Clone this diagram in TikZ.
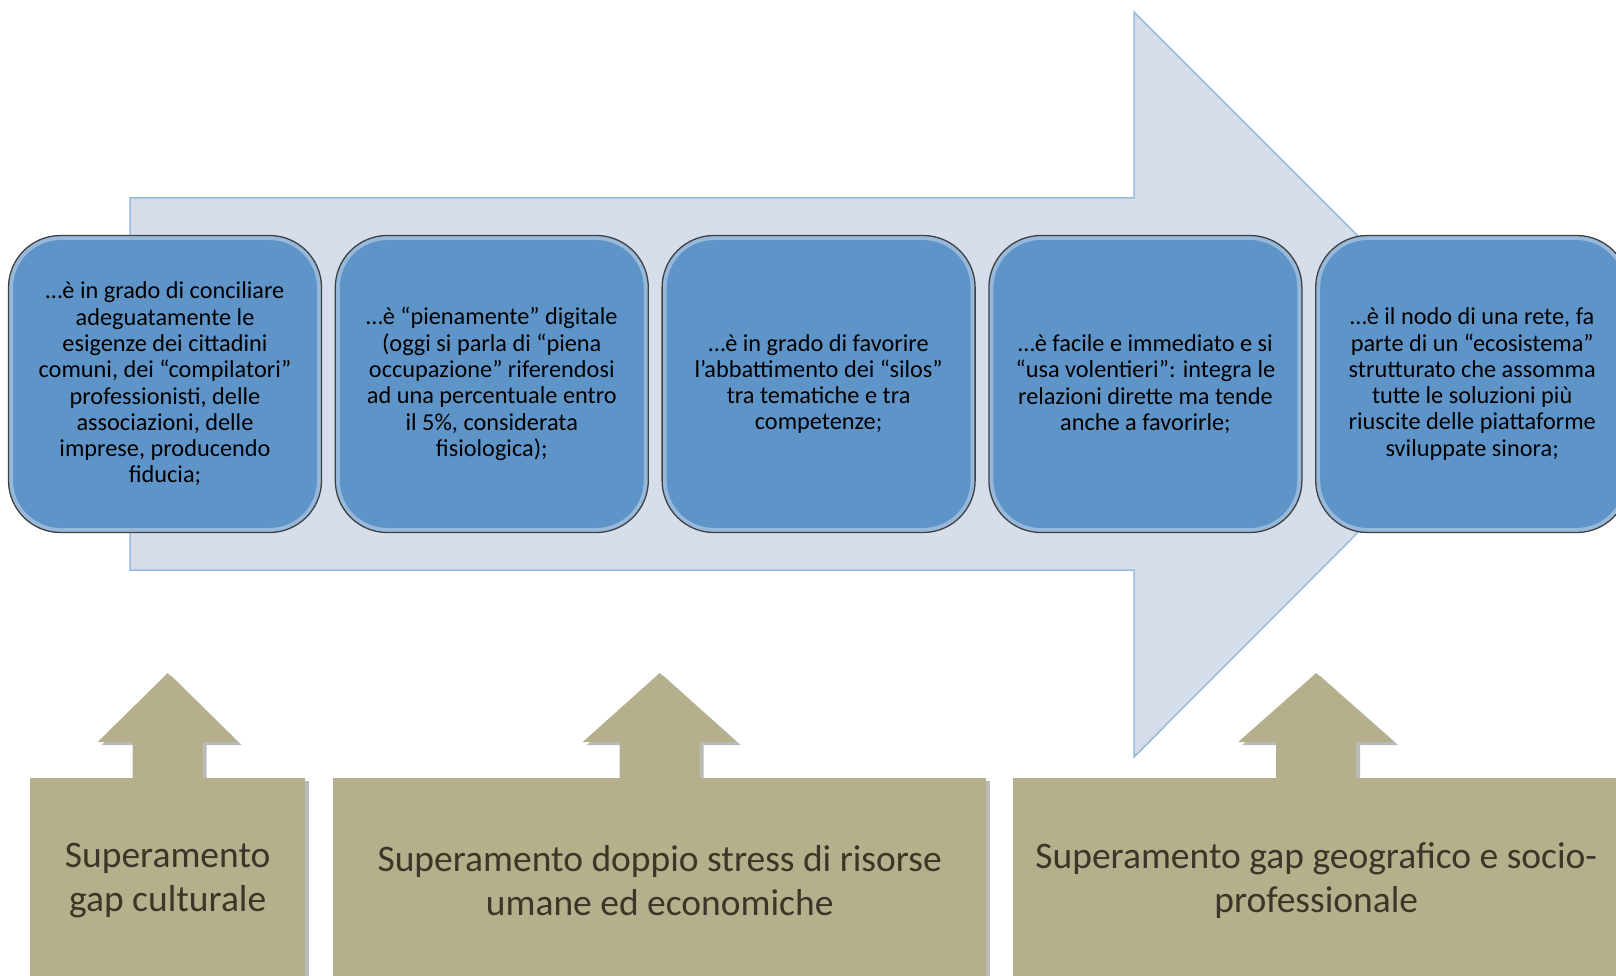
\documentclass[tikz,border=0pt]{standalone}
\usepackage{fontspec}
\setmainfont{Carlito}
\usetikzlibrary{positioning,shadows,calc,backgrounds}

\definecolor{boxblue}{RGB}{95,148,200}
\definecolor{arrfill}{RGB}{214,222,235}
\definecolor{arrline}{RGB}{150,186,224}
\definecolor{tanfill}{RGB}{181,176,140}
\definecolor{tantext}{RGB}{58,54,40}

\tikzset{
  bluebox/.style={fill=boxblue, draw=black!75, line width=1.3pt,
    rounded corners=52pt, minimum width=313pt, minimum height=297pt,
    inner sep=0pt, align=center, font=\fontsize{24.3}{26.3}\selectfont,
    path picture={\draw[white, opacity=.35, line width=9pt, rounded corners=52pt]
      (path picture bounding box.south west) rectangle (path picture bounding box.north east);}},
  tanshadow/.style={drop shadow={shadow xshift=4pt, shadow yshift=-3pt, opacity=.45, fill=black!60}},
  tanbox/.style={fill=tanfill, tanshadow, anchor=north west, minimum height=205pt,
    inner sep=0pt, align=center, text=tantext, font=\fontsize{37.5}{43.5}\selectfont},
}

% up arrow on top of a box: node, half shaft, half head
\newcommand\tanarrow[3]{%
  \fill[tanfill, tanshadow] ($(#1.north)+(-#2,2)$) -- ($(#1.north)+(-#2,-36)$)
    -- ($(#1.north)+(-#3,-36)$) -- ($(#1.north)+(0,-105)$)
    -- ($(#1.north)+(#3,-36)$) -- ($(#1.north)+(#2,-36)$)
    -- ($(#1.north)+(#2,2)$) -- cycle;
}

\begin{document}
\begin{tikzpicture}[x=1pt, y=-1pt]
  \useasboundingbox (0,0) rectangle (1616,976);
  \clip (0,0) rectangle (1616,976);

  % big arrow
  \draw[fill=arrfill, draw=arrline, line width=1.5pt]
    (130,198) -- (1134,198) -- (1134,12) -- (1506,384)
    -- (1134,757) -- (1134,570) -- (130,570) -- cycle;

  % blue boxes
  \node[bluebox] (b1) at (165,384) {…è in grado di conciliare\\adeguatamente le\\esigenze dei cittadini\\comuni, dei “compilatori”\\professionisti, delle\\associazioni, delle\\imprese, producendo\\fiducia;};
  \node[bluebox, right=12.5pt of b1] (b2) {…è “pienamente” digitale\\(oggi si parla di “piena\\occupazione” riferendosi\\ad una percentuale entro\\il 5\%, considerata\\fisiologica);};
  \node[bluebox, right=12.5pt of b2] (b3) {…è in grado di favorire\\l’abbattimento dei “silos”\\tra tematiche e tra\\competenze;};
  \node[bluebox, right=12.5pt of b3] (b4) {…è facile e immediato e si\\“usa volentieri”: integra le\\relazioni dirette ma tende\\anche a favorirle;};
  \node[bluebox, right=12.5pt of b4] (b5) {…è il nodo di una rete, fa\\parte di un “ecosistema”\\strutturato che assomma\\tutte le soluzioni più\\riuscite delle piattaforme\\sviluppate sinora;};

  % bottom boxes
  \node[tanbox, minimum width=275pt] (t1) at (30,778) {Superamento\\gap culturale};
  \node[tanbox, minimum width=653pt] (t2) at (333,778) {Superamento doppio stress di risorse\\umane ed economiche};
  \node[tanbox, minimum width=606pt] (t3) at (1013,778) {Superamento gap geografico e socio-\\professionale};

  % small arrows, behind the boxes
  \begin{pgfonlayer}{background}
    \tanarrow{t1}{35}{70}
    \tanarrow{t2}{40}{77}
    \tanarrow{t3}{40}{78}
  \end{pgfonlayer}
\end{tikzpicture}
\end{document}
